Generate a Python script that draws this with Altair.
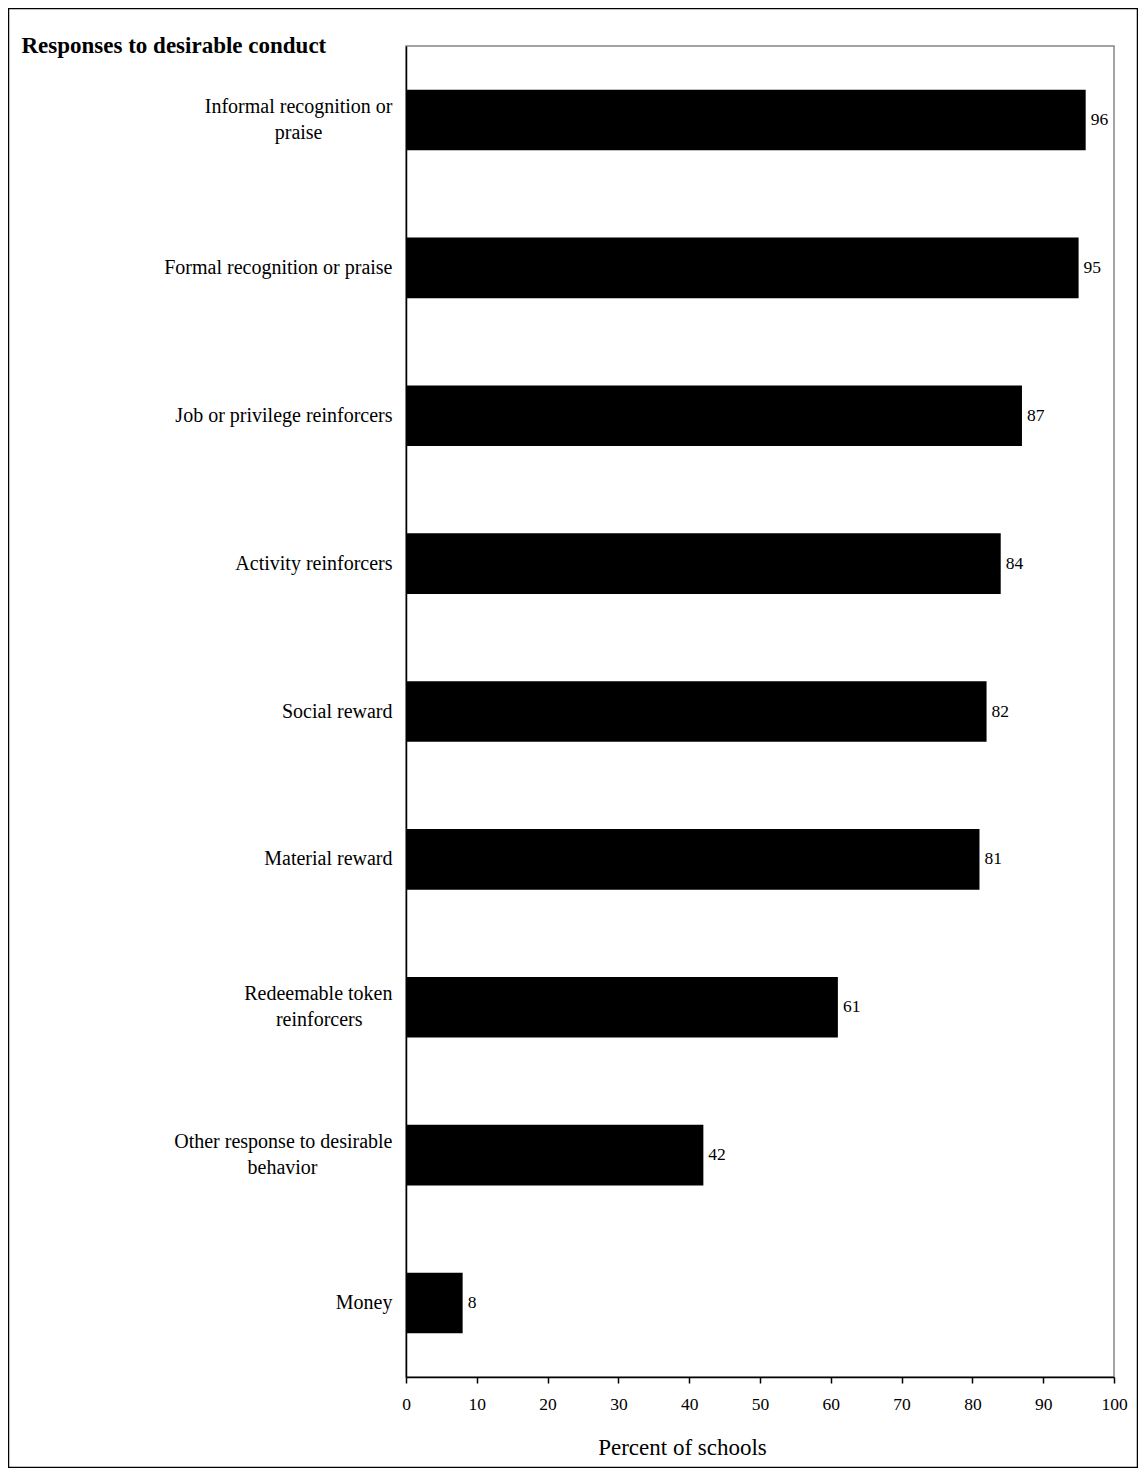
import altair as alt
import pandas as pd

# ---- data ----
categories = [
    "Informal recognition or\npraise",
    "Formal recognition or praise",
    "Job or privilege reinforcers",
    "Activity reinforcers",
    "Social reward",
    "Material reward",
    "Redeemable token\nreinforcers",
    "Other response to desirable\nbehavior",
    "Money",
]
values = [96, 95, 87, 84, 82, 81, 61, 42, 8]
x_ticks = [0, 10, 20, 30, 40, 50, 60, 70, 80, 90, 100]
title_text = "Responses to desirable conduct"
x_title = "Percent of schools"

# ---- styling: centre the second line of wrapped labels under the first ----
NBSP = "\u00a0"
ZWSP = "\u200b"  # keeps the trailing non-breaking spaces from being trimmed
second_line_pad = {
    "Informal recognition or\npraise": 14,
    "Redeemable token\nreinforcers": 6,
    "Other response to desirable\nbehavior": 15,
}


def display_label(c):
    if "\n" in c:
        a, b = c.split("\n")
        return a + "\n" + b + NBSP * second_line_pad.get(c, 0) + ZWSP
    return c


display = [display_label(c) for c in categories]
df = pd.DataFrame({"label": display, "value": values})
one = alt.Data(values=[{"k": 1}])

FONT = "Liberation Serif"
W, H = 708, 1331
PAD = {"left": 398, "top": 38, "right": 24, "bottom": 91}

y_enc = alt.Y(
    "label:N",
    sort=display,
    scale=alt.Scale(paddingInner=0.59, paddingOuter=0.295),
    axis=alt.Axis(
        title=None,
        ticks=False,
        tickSize=0,
        labelPadding=14,
        labelFont=FONT,
        labelFontSize=20,
        labelColor="black",
        labelLimit=0,
        labelExpr="split(datum.label, '\\n')",
        labelLineHeight=26,
        labelAlign="right",
        labelBaseline={
            "condition": {
                "test": "indexof(datum.value, '\\n') >= 0",
                "value": "line-bottom",
            },
            "value": "middle",
        },
        domainColor="black",
        domainWidth=1.5,
    ),
)
x_enc = alt.X(
    "value:Q",
    scale=alt.Scale(domain=[0, 100], nice=False),
    axis=alt.Axis(
        values=x_ticks,
        grid=False,
        title=x_title,
        titleFont=FONT,
        titleFontSize=23,
        titleFontWeight="normal",
        titleColor="black",
        titleX=276,
        titleY=77,
        titleAlign="center",
        titleBaseline="alphabetic",
        labelFont=FONT,
        labelFontSize=17.5,
        labelColor="black",
        labelPadding=12,
        labelFlush=False,
        labelOverlap=False,
        tickSize=6,
        tickWidth=1.5,
        tickColor="black",
        domainColor="black",
        domainWidth=1.5,
    ),
)

bars = alt.Chart(df).mark_bar(color="black").encode(x=x_enc, y=y_enc)

value_text = alt.Chart(df).mark_text(
    align="left", baseline="middle", dx=5, font=FONT, fontSize=17.5, color="black"
).encode(x="value:Q", y=alt.Y("label:N", sort=display), text="value:Q")

title_mark = alt.Chart(one).mark_text(
    text=title_text,
    align="left",
    baseline="alphabetic",
    font=FONT,
    fontSize=23,
    fontWeight="bold",
    color="black",
).encode(x=alt.value(-384.5), y=alt.value(7))

frame = alt.Chart(one).mark_rect(
    filled=False, stroke="black", strokeWidth=1.5
).encode(
    x=alt.value(-397.5), x2=alt.value(731.5), y=alt.value(-37.5), y2=alt.value(1421.5)
)

chart = (
    alt.layer(frame, bars, value_text, title_mark)
    .properties(
        width=W,
        height=H,
        autosize=alt.AutoSizeParams(type="none"),
        padding=PAD,
        background="white",
    )
    .configure_view(stroke="#858585", strokeWidth=1.5)
)

chart.save("out.html", embed_options={"renderer": "svg", "actions": False})
